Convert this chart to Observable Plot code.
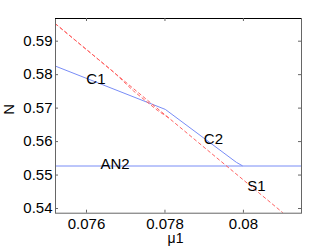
<!DOCTYPE html>
<html><head><meta charset="utf-8">
<script src="https://cdn.jsdelivr.net/npm/d3@7"></script>
<script src="https://cdn.jsdelivr.net/npm/@observablehq/plot@0.6"></script>
<style>body{margin:0;background:#fff} svg{display:block}</style>
</head><body><div id="chart"></div>
<script>
const xDomain = [0.07521, 0.08148];
const yDomain = [0.5386, 0.59678];
const xTicks = [0.076, 0.078, 0.08];
const xTickLabels = ["0.076", "0.078", "0.08"];
const yTicks = [0.54, 0.55, 0.56, 0.57, 0.58, 0.59];
const yTickLabels = ["0.54", "0.55", "0.56", "0.57", "0.58", "0.59"];

// C1 -> C2 branch (blue)
const cX = [0.07521, 0.07801, 0.07982, 0.07997];
const cY = [0.58254, 0.56961, 0.5538, 0.5528];
// AN2 (blue horizontal)
const an2X = [0.07521, 0.08148];
const an2Y = [0.5527, 0.5527];
// S1 (red dashed) and its near-duplicate branch
const s1X = [0.07521, 0.08100];
const s1Y = [0.59519, 0.53878];
const s1bX = [0.07521, 0.0767, 0.0772, 0.0778, 0.0781];
const s1bY = [0.59519, 0.58068, 0.5751, 0.5694, 0.56704];

const labelText = ["C1", "C2", "AN2", "S1"];
const labelX = [0.07624, 0.079236, 0.076726, 0.080331];
const labelY = [0.57857, 0.56066, 0.55319, 0.54662];

const W = 332, H = 250, mL = 55, mR = 31, mT = 18, mB = 37.3;
const innerW = W - mL - mR, innerH = H - mT - mB;
const font = "Liberation Sans, Arial, Helvetica, sans-serif";

const pts = (xs, ys) => xs.map((x, i) => ({x, y: ys[i]}));
const labels = labelText.map((t, i) => ({t, x: labelX[i], y: labelY[i]}));
const blue = "#788cf6", red = "#ff6262", axisC = "#666";

const chart = Plot.plot({
  width: W, height: H,
  marginLeft: mL, marginRight: mR, marginTop: mT, marginBottom: mB,
  style: {fontFamily: font, fontSize: "15px", background: "#fff", color: "#000"},
  x: {domain: xDomain, label: null},
  y: {domain: yDomain, label: null},
  marks: [
    Plot.line(pts(an2X, an2Y), {x: "x", y: "y", stroke: blue, strokeWidth: 1, clip: true}),
    Plot.line(pts(cX, cY), {x: "x", y: "y", stroke: blue, strokeWidth: 1, clip: true}),
    Plot.line(pts(s1bX, s1bY), {x: "x", y: "y", stroke: red, strokeWidth: 1, strokeDasharray: "3,3", clip: true}),
    Plot.line(pts(s1X, s1Y), {x: "x", y: "y", stroke: red, strokeWidth: 1, strokeDasharray: "3,3", clip: true}),
    Plot.text(labels, {x: "x", y: "y", text: "t", fill: "#000", fontSize: 15}),
    Plot.frame({stroke: axisC}),
    Plot.ruleY([yDomain[1]], {stroke: "#000"}),
    Plot.tickX(xTicks, {x: d => d, stroke: axisC, insetTop: innerH - 3}),
    Plot.tickX(xTicks, {x: d => d, stroke: axisC, insetBottom: innerH - 3}),
    Plot.tickY(yTicks, {y: d => d, stroke: axisC, insetRight: innerW - 3}),
    Plot.tickY(yTicks, {y: d => d, stroke: axisC, insetLeft: innerW - 3}),
    Plot.axisX({ticks: xTicks, tickFormat: (d, i) => xTickLabels[i], tickSize: 0, tickPadding: 5, fontSize: 15, label: null}),
    Plot.axisY({ticks: yTicks, tickFormat: (d, i) => yTickLabels[i], tickSize: 0, tickPadding: 3, fontSize: 15, label: null}),
    Plot.text(["μ1"], {frameAnchor: "bottom", dy: 30, dx: -3, fill: "#000", fontSize: 14}),
    Plot.text(["N"], {frameAnchor: "left", dx: -46, dy: -1, rotate: -90, fill: "#000", fontSize: 15})
  ]
});
document.getElementById("chart").appendChild(chart);
</script>
</body></html>
